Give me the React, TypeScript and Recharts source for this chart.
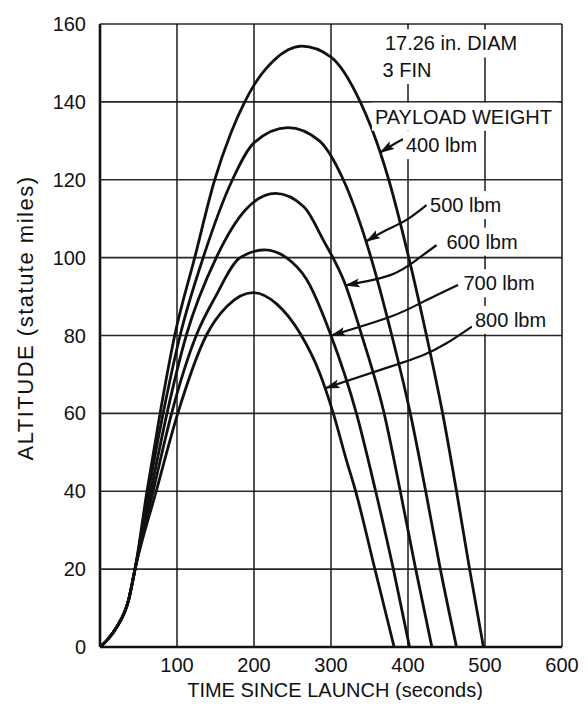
import React from 'react';
import { ComposedChart, Line, Scatter, XAxis, YAxis, CartesianGrid, Label } from 'recharts';

const FONT = '"Liberation Sans", Arial, sans-serif';
const INK = '#111';

const X_TICKS = [100, 200, 300, 400, 500, 600];
const Y_TICKS = [0, 20, 40, 60, 80, 100, 120, 140, 160];

// shared boost phase
const ASCENT_T = [0, 9, 22, 37, 45.5];
const ASCENT_ALT = [0, 1.7, 5.2, 12, 20];

const T_400 = [61, 78, 97, 123, 149, 170, 188, 200, 225, 262, 300, 338, 364, 375, 401, 424, 445, 463, 480, 498];
const ALT_400 = [40, 60, 80, 100, 120, 132, 140, 144.3, 150.5, 154.3, 151.5, 140, 127, 120, 100, 80, 60, 40, 20, 0];

const T_500 = [63, 82, 104, 134, 172, 200, 244, 285, 316, 345, 379, 403, 423, 442, 463];
const ALT_500 = [40, 60, 80, 100, 120, 129.5, 133.4, 130, 120, 104.5, 80, 60, 40, 20, 0];

const T_600 = [66, 87, 112, 151, 190, 228, 265, 290, 318, 340, 369, 390, 410, 431];
const ALT_600 = [40, 60, 80, 100, 112.5, 116.5, 113, 104.5, 93.4, 80, 60, 40, 20, 0];

const T_700 = [69, 93, 125, 150, 182, 214, 242, 268, 300, 333, 358, 381, 402];
const ALT_700 = [40, 60, 80, 90, 100, 102, 100, 94.5, 80, 60, 40, 20, 0];

const T_800 = [73, 101, 138, 165, 199, 230, 260, 285, 303, 320, 332, 357, 382];
const ALT_800 = [40, 60, 80, 87.5, 91, 88, 80.5, 70.5, 60, 48, 40, 20, 0];

// leader arrows (label end -> tip on curve)
const LEAD_400_T = [395, 382, 364];
const LEAD_400_ALT = [130.5, 129.2, 127];
const LEAD_500_T = [424, 398, 372, 346];
const LEAD_500_ALT = [113.5, 109.7, 107.1, 104.2];
const LEAD_600_T = [437, 411, 377, 319];
const LEAD_600_ALT = [103.2, 99.4, 95.5, 92.9];
const LEAD_700_T = [465, 420, 377, 300.5];
const LEAD_700_ALT = [93, 88.7, 84.8, 80];
const LEAD_800_T = [483, 450, 420, 377, 293];
const LEAD_800_ALT = [82.3, 78, 75, 72, 66.5];

// annotation texts (left edge, vertical centre)
const NOTE_TEXT = ['17.26 in. DIAM', '3 FIN', 'PAYLOAD WEIGHT', '400 lbm', '500 lbm', '600 lbm', '700 lbm', '800 lbm'];
const NOTE_T = [370, 367, 357, 397.4, 428.6, 450, 472, 487];
const NOTE_ALT = [155, 148.2, 136.2, 128.9, 113.5, 104.1, 93.4, 84];

const toPoints = (ts: number[], alts: number[]) => ts.map((t, i) => ({ t, alt: alts[i] }));
const trajectory = (ts: number[], alts: number[]) => toPoints([...ASCENT_T, ...ts], [...ASCENT_ALT, ...alts]);

const CURVES = [
  { name: '400 lbm', data: trajectory(T_400, ALT_400) },
  { name: '500 lbm', data: trajectory(T_500, ALT_500) },
  { name: '600 lbm', data: trajectory(T_600, ALT_600) },
  { name: '700 lbm', data: trajectory(T_700, ALT_700) },
  { name: '800 lbm', data: trajectory(T_800, ALT_800) },
];

const LEADERS = [
  { name: 'lead400', data: toPoints(LEAD_400_T, LEAD_400_ALT) },
  { name: 'lead500', data: toPoints(LEAD_500_T, LEAD_500_ALT) },
  { name: 'lead600', data: toPoints(LEAD_600_T, LEAD_600_ALT) },
  { name: 'lead700', data: toPoints(LEAD_700_T, LEAD_700_ALT) },
  { name: 'lead800', data: toPoints(LEAD_800_T, LEAD_800_ALT) },
];

const NOTES = NOTE_TEXT.map((text, i) => ({ t: NOTE_T[i], alt: NOTE_ALT[i], text }));

// rough advance widths (em) for Liberation Sans, used only to size the white patch behind a note
const charWidth = (ch: string) => {
  if (ch === ' ' || ch === '.' || ch === 'i' || ch === 'l' || ch === 'I') return 0.28;
  if (ch === 'M' || ch === 'W' || ch === 'm') return 0.88;
  if (/[A-Z]/.test(ch)) return 0.69;
  return 0.56;
};

const NoteShape = (props: any) => {
  const { cx, cy, payload } = props;
  const w = payload.text.split('').reduce((s: number, ch: string) => s + charWidth(ch), 0) * 20;
  return (
    <g>
      <rect x={cx - 3} y={cy - 14} width={w + 6} height={28} fill="#fff" />
      <text x={cx} y={cy} dominantBaseline="central" fontSize={20} fontFamily={FONT} fill={INK}>
        {payload.text}
      </text>
    </g>
  );
};

const XTitle = () => (
  <text x={327} y={689} textAnchor="middle" fontSize={20} fontFamily={FONT} fill={INK}>
    TIME SINCE LAUNCH (seconds)
  </text>
);

const YTitle = () => {
  const cx = 17;
  const cy = 310;
  return (
    <text
      x={cx}
      y={cy}
      transform={`rotate(-90, ${cx}, ${cy})`}
      textAnchor="middle"
      dominantBaseline="central"
      fontSize={22}
      letterSpacing={1.5}
      fontFamily={FONT}
      fill={INK}
    >
      ALTITUDE (statute miles)
    </text>
  );
};

export default function App() {
  return (
    <div style={{ width: 572, height: 692 }}>
      <ComposedChart width={572} height={692} margin={{ top: 16, right: 18, bottom: 0, left: 0 }}>
        <defs>
          <marker
            id="arrowHead"
            viewBox="0 0 15 10"
            refX="14"
            refY="5"
            markerWidth="15"
            markerHeight="10"
            markerUnits="userSpaceOnUse"
            orient="auto"
          >
            <path d="M0,0.5 L15,5 L0,9.5 L3,5 z" fill={INK} />
          </marker>
        </defs>
        <CartesianGrid stroke={INK} strokeWidth={1.6} strokeOpacity={0.9} />
        <XAxis
          type="number"
          dataKey="t"
          domain={[0, 600]}
          ticks={X_TICKS}
          interval={0}
          allowDataOverflow
          tickLine={false}
          tickSize={6}
          tickMargin={5}
          height={53}
          axisLine={{ stroke: INK, strokeWidth: 2.6 }}
          tick={{ fontSize: 20, fill: INK, fontFamily: FONT }}
        >
          <Label content={XTitle} />
        </XAxis>
        <YAxis
          type="number"
          dataKey="alt"
          domain={[0, 160]}
          ticks={Y_TICKS}
          interval={0}
          allowDataOverflow
          tickLine={false}
          tickSize={6}
          tickMargin={8}
          width={92}
          axisLine={{ stroke: INK, strokeWidth: 2.6 }}
          tick={{ fontSize: 20, fill: INK, fontFamily: FONT }}
        >
          <Label content={YTitle} />
        </YAxis>
        <Scatter data={NOTES} dataKey="alt" shape={NoteShape} isAnimationActive={false} />
        {CURVES.map((c) => (
          <Line
            key={c.name}
            name={c.name}
            data={c.data}
            dataKey="alt"
            type="monotone"
            stroke={INK}
            strokeWidth={2.8}
            dot={false}
            activeDot={false}
            isAnimationActive={false}
          />
        ))}
        {LEADERS.map((l) => (
          <Line
            key={l.name}
            name={l.name}
            data={l.data}
            dataKey="alt"
            type="natural"
            stroke={INK}
            strokeWidth={2.2}
            dot={false}
            activeDot={false}
            markerEnd="url(#arrowHead)"
            isAnimationActive={false}
          />
        ))}
      </ComposedChart>
    </div>
  );
}
